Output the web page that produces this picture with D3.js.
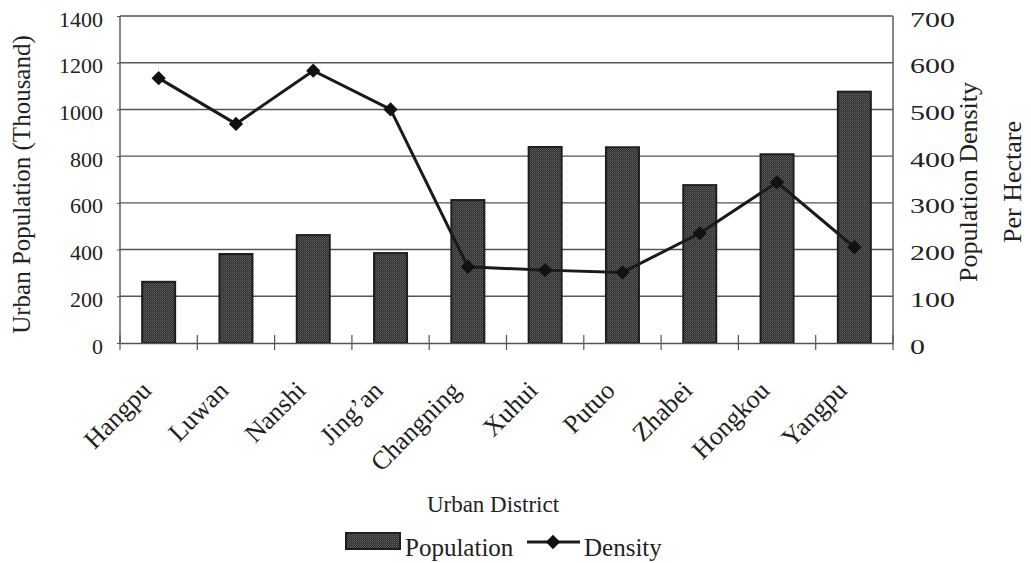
<!DOCTYPE html>
<html>
<head>
<meta charset="utf-8">
<script src="https://cdn.jsdelivr.net/npm/d3@7"></script>
<style>
  html, body { margin: 0; padding: 0; background: #fff; }
  svg { display: block; }
  text { font-family: "Liberation Serif", "Times New Roman", serif; fill: #222; }
</style>
</head>
<body>
<svg id="chart" width="1031" height="563"></svg>
<script>
// Urban districts of Shanghai
const districts = ["Hangpu", "Luwan", "Nanshi", "Jing’an", "Changning", "Xuhui", "Putuo", "Zhabei", "Hongkou", "Yangpu"];
// Urban population (thousand)
const population = [262, 381, 462, 385, 612, 839, 838, 676, 808, 1076];
// Population density per hectare
const density = [567, 469, 583, 500, 163, 156, 151, 235, 344, 205];
const popTicks = [0, 200, 400, 600, 800, 1000, 1200, 1400];
const denTicks = [0, 100, 200, 300, 400, 500, 600, 700];

const svg = d3.select("#chart");
const m = { left: 120, right: 893, top: 16, bottom: 343 };

const x = d3.scaleBand().domain(districts).range([m.left, m.right]).paddingInner(0).paddingOuter(0);
const yL = d3.scaleLinear().domain([0, 1400]).range([m.bottom, m.top]);
const yR = d3.scaleLinear().domain([0, 700]).range([m.bottom, m.top]);
const fmt = d3.format("d");

// textured fill for the bars
const defs = svg.append("defs");
const pat = defs.append("pattern").attr("id", "dots").attr("patternUnits", "userSpaceOnUse")
  .attr("width", 2).attr("height", 2);
pat.append("rect").attr("width", 2).attr("height", 2).attr("fill", "#2e2e2e");
pat.append("rect").attr("width", 1).attr("height", 1).attr("fill", "#656565");
pat.append("rect").attr("x", 1).attr("y", 1).attr("width", 1).attr("height", 1).attr("fill", "#4e4e4e");

// horizontal gridlines
svg.append("g").selectAll("line").data(popTicks.slice(1)).join("line")
  .attr("x1", m.left).attr("x2", m.right)
  .attr("y1", d => yL(d)).attr("y2", d => yL(d))
  .attr("stroke", "#555").attr("stroke-width", 1.4);

// plot frame: left and right sides
svg.append("line").attr("x1", m.left).attr("x2", m.left).attr("y1", m.top).attr("y2", m.bottom)
  .attr("stroke", "#555").attr("stroke-width", 1.4);
svg.append("line").attr("x1", m.right).attr("x2", m.right).attr("y1", m.top).attr("y2", m.bottom)
  .attr("stroke", "#555").attr("stroke-width", 1.4);

// bars
const barW = 33;
svg.append("g").selectAll("rect").data(districts).join("rect")
  .attr("x", (d) => x(d) + x.bandwidth() / 2 - barW / 2)
  .attr("y", (d, i) => yL(population[i]))
  .attr("width", barW)
  .attr("height", (d, i) => yL(0) - yL(population[i]))
  .attr("fill", "url(#dots)")
  .attr("stroke", "#1e1e1e").attr("stroke-width", 2);

// left axis
const axL = svg.append("g").attr("transform", `translate(${m.left},0)`)
  .call(d3.axisLeft(yL).tickValues(popTicks).tickFormat(fmt).tickSize(3).tickSizeOuter(0).tickPadding(14));
axL.select(".domain").remove();
axL.selectAll(".tick line").attr("stroke", "#555");
axL.selectAll(".tick text").attr("font-size", 22).attr("font-family", "Liberation Serif")
  .attr("fill", "#222").attr("dy", "0.46em");

// right axis, labels drawn a little wider
const axR = svg.append("g").attr("transform", `translate(${m.right},0)`)
  .call(d3.axisRight(yR).tickValues(denTicks).tickFormat(fmt).tickSize(0).tickPadding(0));
axR.select(".domain").remove();
axR.selectAll(".tick text")
  .attr("font-size", 22).attr("font-family", "Liberation Serif").attr("fill", "#222")
  .attr("x", 0).attr("dy", "0.46em")
  .attr("transform", "translate(17,0) scale(1.36,1)");

// bottom axis with boundary ticks crossing the baseline
const axB = svg.append("g").attr("transform", `translate(0,${m.bottom})`)
  .call(d3.axisBottom(x).tickSize(0).tickFormat(""));
axB.select(".domain").attr("stroke", "#555").attr("stroke-width", 1.4);
const bounds = districts.map(d => x(d)).concat([m.right]);
svg.append("g").selectAll("line").data(bounds).join("line")
  .attr("x1", d => d).attr("x2", d => d)
  .attr("y1", m.bottom - 8).attr("y2", m.bottom + 7)
  .attr("stroke", "#555").attr("stroke-width", 1.2);

// category labels, slanted
svg.append("g").selectAll("text").data(districts).join("text")
  .attr("transform", d => `translate(${x(d) + x.bandwidth() / 2 - 6},${m.bottom + 49}) rotate(-45)`)
  .attr("text-anchor", "end")
  .attr("font-size", 26)
  .text(d => d);

// density line and markers
const line = d3.line().x((d, i) => x(districts[i]) + x.bandwidth() / 2).y(d => yR(d));
svg.append("path").datum(density).attr("d", line)
  .attr("fill", "none").attr("stroke", "#1a1a1a").attr("stroke-width", 3);
const diamond = d3.symbol().type(d3.symbolDiamond2).size(130);
svg.append("g").selectAll("path").data(density).join("path")
  .attr("transform", (d, i) => `translate(${x(districts[i]) + x.bandwidth() / 2},${yR(d)})`)
  .attr("d", diamond).attr("fill", "#111");

// axis titles
svg.append("text").attr("transform", `translate(30,${(m.top + m.bottom) / 2 + 5}) rotate(-90)`)
  .attr("text-anchor", "middle").attr("font-size", 25).text("Urban Population (Thousand)");
svg.append("text").attr("transform", `translate(977,182) rotate(-90)`)
  .attr("text-anchor", "middle").attr("font-size", 26).text("Population Density");
svg.append("text").attr("transform", `translate(1021,182) rotate(-90)`)
  .attr("text-anchor", "middle").attr("font-size", 26).text("Per Hectare");
svg.append("text").attr("x", 493).attr("y", 512)
  .attr("text-anchor", "middle").attr("font-size", 23).text("Urban District");

// legend
const lg = svg.append("g");
lg.append("rect").attr("x", 346).attr("y", 533).attr("width", 54).attr("height", 16)
  .attr("fill", "url(#dots)").attr("stroke", "#1e1e1e").attr("stroke-width", 2);
lg.append("text").attr("x", 405).attr("y", 556).attr("font-size", 25).text("Population");
lg.append("line").attr("x1", 527).attr("x2", 580).attr("y1", 542).attr("y2", 542)
  .attr("stroke", "#1a1a1a").attr("stroke-width", 3);
lg.append("path").attr("transform", "translate(553,542)").attr("d", diamond).attr("fill", "#111");
lg.append("text").attr("x", 584).attr("y", 556).attr("font-size", 25).text("Density");
</script>
</body>
</html>
